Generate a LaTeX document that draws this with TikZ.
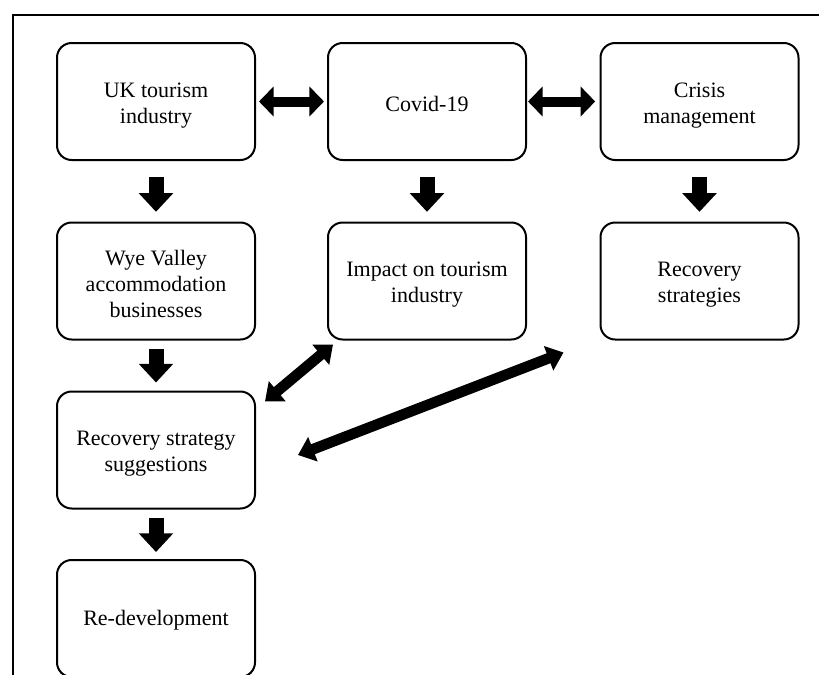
\documentclass[tikz,border=0pt]{standalone}
\usepackage{fontspec}
\setmainfont{Liberation Serif}
\usetikzlibrary{arrows.meta}
\begin{document}
\begin{tikzpicture}[x=0.75pt,y=-0.75pt,
  box/.style={draw, line width=1.5pt, rounded corners=11pt, minimum width=148.5pt, minimum height=87.75pt, outer sep=0pt, inner sep=0pt},
  txt/.style={align=center, font=\fontsize{16.5pt}{19.5pt}\selectfont, inner sep=0pt},
  downarrow/.style={line width=11.25pt, -{Triangle[length=14pt,width=25pt]}},
  harrow/.style={line width=7.5pt, {Triangle[length=11pt,width=22pt]}-{Triangle[length=11pt,width=22pt]}},
  darrow/.style={line width=8pt, {Triangle[length=12pt,width=19pt]}-{Triangle[length=12pt,width=19pt]}},
  frame/.style={line width=1.5pt}
]
\useasboundingbox (0,0) rectangle (819,675);
% outer frame (top and left visible)
\coordinate (fbl) at (12.5,680);
\coordinate (ftl) at (12.5,15);
\coordinate (ftr) at (825,15);
\draw[frame] (fbl) -- (ftl) -- (ftr);

% boxes
\node[box] (uk) at (156,101.5) {};
\node[box] (covid) at (427,101.5) {};
\node[box] (crisis) at (699.5,101.5) {};
\node[box] (wye) at (156,281) {};
\node[box] (impact) at (427,281) {};
\node[box] (recov) at (699.5,281) {};
\node[box] (sugg) at (156,450) {};
\node[box] (redev) at (156,618.5) {};

% texts
\node[txt] (ukt) at ([yshift=-3pt]uk.center) {UK tourism\\industry};
\node[txt] (covidt) at ([yshift=-1.5pt]covid.center) {Covid-19};
\node[txt] (crisist) at ([yshift=-3pt]crisis.center) {Crisis\\management};
\node[txt] (wyet) at ([yshift=-2.25pt]wye.center) {Wye Valley\\accommodation\\businesses};
\node[txt] (impactt) at ([yshift=-3pt]impact.center) {Impact on tourism\\industry};
\node[txt] (recovt) at ([yshift=-3pt]recov.center) {Recovery\\strategies};
\node[txt] (suggt) at ([yshift=-3pt]sugg.center) {Recovery strategy\\suggestions};
\node[txt] (redevt) at ([yshift=-1.5pt]redev.center) {Re-development};

% horizontal double arrows
\draw[harrow] ([xshift=3pt]uk.east) -- ([xshift=-3pt]covid.west);
\draw[harrow] ([xshift=1.5pt]covid.east) -- ([xshift=-4pt]crisis.west);

% vertical arrows
\draw[downarrow] ([yshift=-12.5pt]uk.south) -- ([yshift=8pt]wye.north);
\draw[downarrow] ([yshift=-12.5pt]covid.south) -- ([yshift=8pt]impact.north);
\draw[downarrow] ([yshift=-12.5pt]crisis.south) -- ([yshift=8pt]recov.north);
\draw[downarrow] ([yshift=-6.75pt]wye.south) -- ([yshift=6.75pt]sugg.north);
\draw[downarrow] ([yshift=-6.75pt]sugg.south) -- ([yshift=6pt]redev.north);

% diagonal double arrows
\draw[darrow] ([shift={(10,10)}]sugg.north east) -- ([shift={(5,5)}]impact.south west);
\draw[darrow] ([shift={(43,5)}]sugg.east) -- ([shift={(-37,13)}]recov.south west);
\end{tikzpicture}
\end{document}
